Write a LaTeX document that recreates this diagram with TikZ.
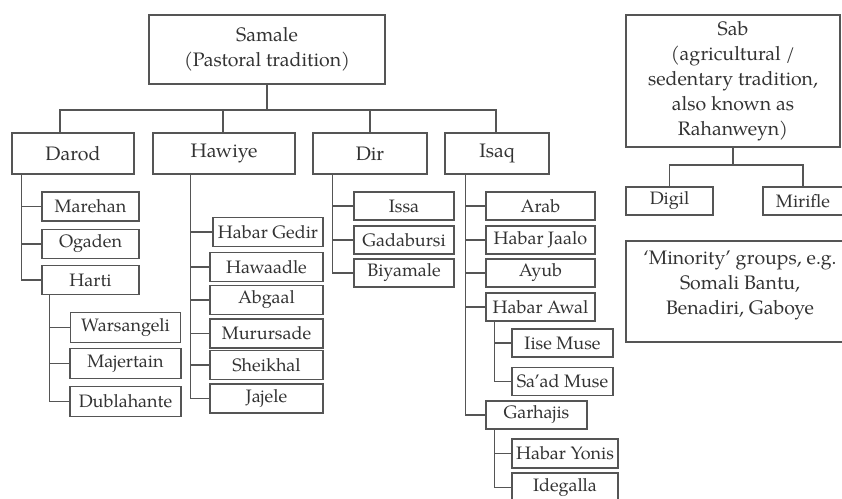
\documentclass[tikz,border=0pt]{standalone}
\usepackage{fontspec}
\setmainfont{TeX Gyre Pagella}
\definecolor{lc}{HTML}{555555}
\definecolor{tc}{HTML}{333333}
\begin{document}
\begin{tikzpicture}[x=1pt,y=-1pt,
 bx/.style={draw=lc, line width=1.4pt, inner sep=0pt, text=tc, align=center, font=\fontsize{18}{24}\selectfont},
 big/.style={bx, font=\fontsize{19.5}{25}\selectfont},
 sz/.style 2 args={minimum width=#1pt, minimum height=#2pt},
 ln/.style={draw=lc, line width=1.4pt}]
\useasboundingbox (0,0) rectangle (842,498);
\clip (0,0) rectangle (842,498);
\fill[white] (0,0) rectangle (842,498);
% top level
\node[big, sz={236}{69}] (samale) at (267,49.5) {Samale\\(Pastoral tradition)};
\node[big, sz={122}{41}] (darod) at (73,153.5) {Darod};
\node[big, sz={142}{41}] (hawiye) at (224,153.5) {Hawiye};
\node[big, sz={114}{41}] (dir) at (370,153.5) {Dir};
\node[big, sz={104}{41}] (isaq) at (497,153.5) {Isaq};
\node[big, sz={214}{132}] (sab) at (733,81) {Sab\\(agricultural /\\sedentary tradition,\\also known as\\Rahanweyn)};
\node[bx, sz={87}{28}] (digil) at (669.5,201) {Digil};
\node[bx, sz={80}{28}] (mirifle) at (803,201) {Mirifle};
\node[big, sz={228}{101}, text depth=17pt] (minority) at (740,291.5) {‘Minority’ groups, e.g.\\Somali Bantu,\\Benadiri, Gaboye};
% Darod
\node[bx, sz={97}{29}] (marehan) at (90.5,206.5) {Marehan};
\node[bx, sz={97}{29}] (ogaden) at (90.5,244) {Ogaden};
\node[bx, sz={97}{29}] (harti) at (90.5,280) {Harti};
\node[bx, sz={110}{30}] (warsangeli) at (125.5,327.5) {Warsangeli};
\node[bx, sz={111}{30}] (majertain) at (125.5,363.5) {Majertain};
\node[bx, sz={111}{30}] (dublahante) at (125.5,401.5) {Dublahante};
% Hawiye
\node[bx, sz={110}{29}] (habargedir) at (268,232) {Habar Gedir};
\node[bx, sz={113}{29}] (hawaadle) at (266.5,267) {Hawaadle};
\node[bx, sz={113}{29}] (abgaal) at (266.5,300) {Abgaal};
\node[bx, sz={113}{29}] (murursade) at (266.5,333.5) {Murursade};
\node[bx, sz={113}{29}] (sheikhal) at (266.5,365) {Sheikhal};
\node[bx, sz={113}{29}] (jajele) at (266.5,398.5) {Jajele};
% Dir
\node[bx, sz={100}{28}] (issa) at (404,206) {Issa};
\node[bx, sz={100}{28}] (gadabursi) at (404,240) {Gadabursi};
\node[bx, sz={100}{28}] (biyamale) at (404,273) {Biyamale};
% Isaq
\node[bx, sz={109}{28}] (arab) at (540.5,206) {Arab};
\node[bx, sz={109}{28}] (habarjaalo) at (540.5,240) {Habar Jaalo};
\node[bx, sz={109}{28}] (ayub) at (540.5,273) {Ayub};
\node[bx, sz={109}{28}] (habarawal) at (540.5,307) {Habar Awal};
\node[bx, sz={101}{28}] (iise) at (562.5,343) {Iise Muse};
\node[bx, sz={101}{28}] (saad) at (562.5,381.5) {Sa’ad Muse};
\node[bx, sz={101}{28}] (garhajis) at (536.5,415) {Garhajis};
\node[bx, sz={106}{29}] (habaryonis) at (565,453.5) {Habar Yonis};
\node[bx, sz={106}{29}] (idegalla) at (565,487.5) {Idegalla};
% top connectors
\coordinate (bar) at (0,110);
\coordinate (dtop) at ([xshift=-13pt]darod.north);
\coordinate (htop) at ([xshift=-1pt]hawiye.north);
\coordinate (itop) at ([xshift=-1pt]isaq.north);
\draw[ln] (samale.south) -- (samale.south |- bar);
\draw[ln] (dtop) |- (bar -| itop) -- (itop);
\draw[ln] (htop) -- (htop |- bar);
\draw[ln] (dir.north) -- (dir.north |- bar);
% Sab connectors
\coordinate (sbar) at (0,165);
\draw[ln] (sab.south) -- (sab.south |- sbar);
\draw[ln] (digil.north) |- (sbar -| mirifle.north) -- (mirifle.north);
% Darod spine
\coordinate (dsp) at ([xshift=10pt]darod.south west);
\draw[ln] (dsp) |- (harti.west);
\draw[ln] (dsp |- marehan.west) -- (marehan.west);
\draw[ln] (dsp |- ogaden.west) -- (ogaden.west);
% Harti spine
\coordinate (hsp) at ([xshift=8pt]harti.south west);
\draw[ln] (hsp) |- (dublahante.west);
\draw[ln] (hsp |- warsangeli.west) -- (warsangeli.west);
\draw[ln] (hsp |- majertain.west) -- (majertain.west);
% Hawiye spine
\coordinate (wsp) at ([xshift=38pt]hawiye.south west);
\draw[ln] (wsp) |- (jajele.west);
\draw[ln] (wsp |- habargedir.west) -- (habargedir.west);
\draw[ln] (wsp |- hawaadle.west) -- (hawaadle.west);
\draw[ln] (wsp |- abgaal.west) -- (abgaal.west);
\draw[ln] (wsp |- murursade.west) -- (murursade.west);
\draw[ln] (wsp |- sheikhal.west) -- (sheikhal.west);
% Dir spine
\coordinate (rsp) at ([xshift=20pt]dir.south west);
\draw[ln] (rsp) |- (biyamale.west);
\draw[ln] (rsp |- issa.west) -- (issa.west);
\draw[ln] (rsp |- gadabursi.west) -- (gadabursi.west);
% Isaq spine
\coordinate (qsp) at ([xshift=21pt]isaq.south west);
\draw[ln] (qsp) |- (garhajis.west);
\draw[ln] (qsp |- arab.west) -- (arab.west);
\draw[ln] (qsp |- habarjaalo.west) -- (habarjaalo.west);
\draw[ln] (qsp |- ayub.west) -- (ayub.west);
\draw[ln] (qsp |- habarawal.west) -- (habarawal.west);
% Habar Awal spine
\coordinate (asp) at ([xshift=9pt]habarawal.south west);
\draw[ln] (asp) |- (saad.west);
\draw[ln] (asp |- iise.west) -- (iise.west);
% Garhajis spine
\coordinate (gsp) at ([xshift=9pt]garhajis.south west);
\draw[ln] (gsp) |- (idegalla.west);
\draw[ln] (gsp |- habaryonis.west) -- (habaryonis.west);
\end{tikzpicture}
\end{document}
